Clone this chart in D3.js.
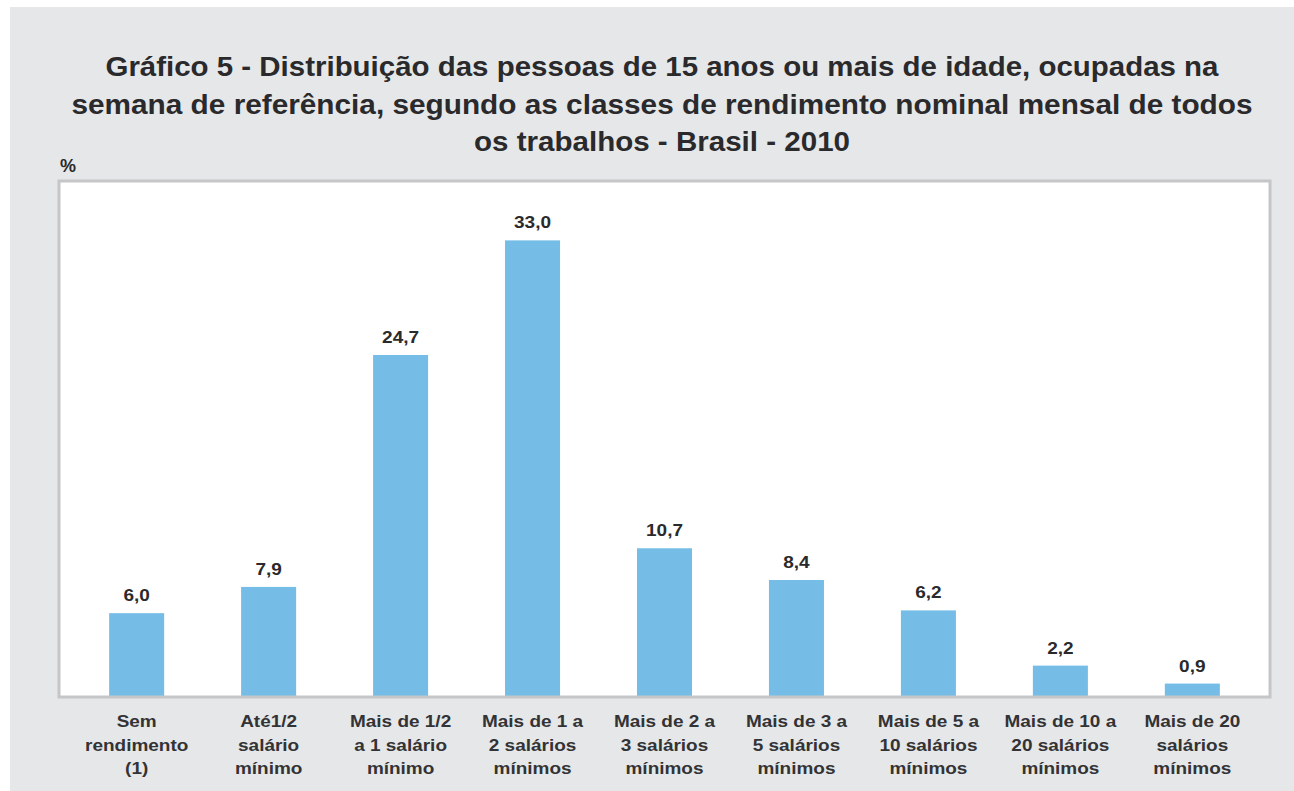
<!DOCTYPE html>
<html>
<head>
<meta charset="utf-8">
<script src="https://cdn.jsdelivr.net/npm/d3@7"></script>
<style>
  body { margin: 0; background: #fff; }
  text { font-family: "Liberation Sans", Arial, sans-serif; }
</style>
</head>
<body>
<script>
// data
var categories = [
  ['Sem', 'rendimento', '(1)'],
  ['Até1/2', 'salário', 'mínimo'],
  ['Mais de 1/2', 'a 1 salário', 'mínimo'],
  ['Mais de 1 a', '2 salários', 'mínimos'],
  ['Mais de 2 a', '3 salários', 'mínimos'],
  ['Mais de 3 a', '5 salários', 'mínimos'],
  ['Mais de 5 a', '10 salários', 'mínimos'],
  ['Mais de 10 a', '20 salários', 'mínimos'],
  ['Mais de 20', 'salários', 'mínimos']
];
var values = [6.0, 7.9, 24.7, 33.0, 10.7, 8.4, 6.2, 2.2, 0.9];
var titleLines = [
  'Gráfico 5 - Distribuição das pessoas de 15 anos ou mais de idade, ocupadas na',
  'semana de referência, segundo as classes de rendimento nominal mensal de todos',
  'os trabalhos - Brasil - 2010'
];
var unitLabel = '%';

var W = 1294, H = 791;
var plot = { left: 59, right: 1270, top: 181, bottom: 697 };
var textColor = '#2a2a2c';

var svg = d3.select('body').append('svg')
  .attr('width', W)
  .attr('height', H);

// grey card
svg.append('rect')
  .attr('x', 10).attr('y', 7)
  .attr('width', W - 10).attr('height', H - 7)
  .attr('fill', '#e6e7e9');

var xScale = d3.scaleBand()
  .domain(d3.range(categories.length))
  .range([plot.left, plot.right])
  .paddingInner(0.583)
  .paddingOuter(0.38);

var yScale = d3.scaleLinear()
  .domain([0, 37.3])
  .range([plot.bottom - 1, plot.top]);

// title (stretched to the widths measured on the picture)
var titleWidths = [1113, 1181, 376];
svg.append('g').selectAll('text')
  .data(titleLines)
  .enter().append('text')
  .attr('x', 662)
  .attr('y', function(d, i) { return 76 + i * 37.5; })
  .attr('text-anchor', 'middle')
  .attr('font-size', 28.5)
  .attr('font-weight', 'bold')
  .attr('fill', textColor)
  .attr('textLength', function(d, i) { return titleWidths[i]; })
  .attr('lengthAdjust', 'spacingAndGlyphs')
  .text(function(d) { return d; });

svg.append('text')
  .attr('x', 60).attr('y', 172)
  .attr('font-size', 18)
  .attr('font-weight', 'bold')
  .attr('fill', textColor)
  .text(unitLabel);

// plot frame
svg.append('rect')
  .attr('x', plot.left).attr('y', plot.top)
  .attr('width', plot.right - plot.left)
  .attr('height', plot.bottom - plot.top)
  .attr('fill', '#fff');

var g = svg.append('g');

g.selectAll('rect')
  .data(values)
  .enter().append('rect')
  .attr('x', function(d, i) { return xScale(i); })
  .attr('y', function(d) { return yScale(d); })
  .attr('width', xScale.bandwidth())
  .attr('height', function(d) { return yScale(0) - yScale(d); })
  .attr('fill', '#75bde7');

// value labels
g.selectAll('text.val')
  .data(values)
  .enter().append('text')
  .attr('class', 'val')
  .attr('transform', function(d, i) {
    return 'translate(' + (xScale(i) + xScale.bandwidth() / 2) + ',' + (yScale(d) - 12) + ') scale(1.12,1)';
  })
  .attr('text-anchor', 'middle')
  .attr('font-size', 17)
  .attr('font-weight', 'bold')
  .attr('fill', textColor)
  .text(function(d) { return d3.format('.1f')(d).replace('.', ','); });

svg.append('rect')
  .attr('x', plot.left).attr('y', plot.top)
  .attr('width', plot.right - plot.left)
  .attr('height', plot.bottom - plot.top)
  .attr('fill', 'none')
  .attr('stroke', '#c5c6c8')
  .attr('stroke-width', 3);

// category labels
var cat = svg.append('g').selectAll('g')
  .data(categories)
  .enter().append('g')
  .attr('transform', function(d, i) {
    return 'translate(' + (xScale(i) + xScale.bandwidth() / 2) + ',0)';
  });

cat.selectAll('text')
  .data(function(d) { return d; })
  .enter().append('text')
  .attr('transform', function(d, j) { return 'translate(0,' + (727 + j * 23.5) + ') scale(1.15,1)'; })
  .attr('text-anchor', 'middle')
  .attr('font-size', 16.5)
  .attr('font-weight', 'bold')
  .attr('fill', '#333335')
  .text(function(d) { return d; });
</script>
</body>
</html>
